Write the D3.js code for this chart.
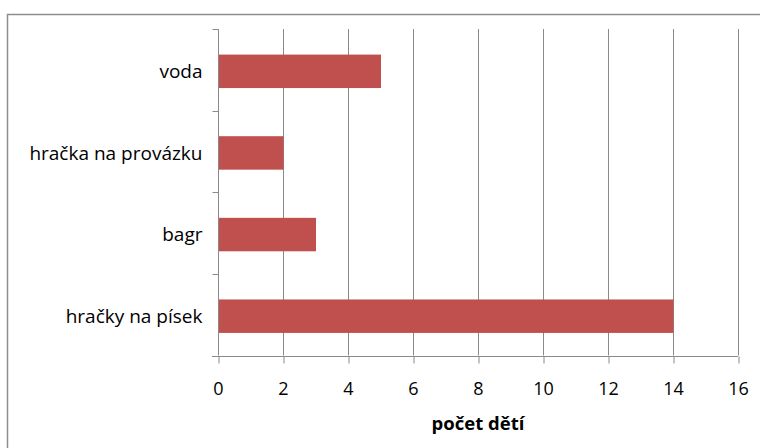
<!DOCTYPE html>
<html>
<head>
<meta charset="utf-8">
<script src="https://cdn.jsdelivr.net/npm/d3@7"></script>
<style>
body { margin: 0; background: #fff; }
svg { display: block; font-family: "Open Sans", "Noto Sans", sans-serif; }
</style>
</head>
<body>
<svg width="760" height="448"></svg>
<script>
// data
var categories = ["voda", "hračka na provázku", "bagr", "hračky na písek"];
var values = [5, 2, 3, 14];
var xTicks = [0, 2, 4, 6, 8, 10, 12, 14, 16];
var xTitle = "počet dětí";

var svg = d3.select("svg");

// outer chart frame
svg.append("rect")
    .attr("x", 7.5).attr("y", 14.5)
    .attr("width", 800).attr("height", 500)
    .attr("fill", "none")
    .attr("stroke", "#8e8e8e")
    .attr("stroke-width", 1.5);

var plotLeft = 218, plotRight = 738, plotTop = 29, plotBottom = 355.5;

var x = d3.scaleLinear().domain([0, 16]).range([plotLeft, plotRight]);
var y = d3.scaleBand().domain(categories).range([plotTop + 1.5, plotBottom + 1.5]).paddingInner(0.59).paddingOuter(0.295);

// gridlines
svg.append("g")
    .selectAll("line")
    .data(xTicks.slice(1))
    .enter().append("line")
    .attr("x1", function (d) { return Math.round(x(d)) + 0.5; })
    .attr("x2", function (d) { return Math.round(x(d)) + 0.5; })
    .attr("y1", plotTop)
    .attr("y2", plotBottom)
    .attr("stroke", "#8a8a8a")
    .attr("stroke-width", 1);

// bars
svg.append("g")
    .selectAll("rect")
    .data(values)
    .enter().append("rect")
    .attr("x", x(0) + 0.5)
    .attr("y", function (d, i) { return y(categories[i]); })
    .attr("width", function (d) { return x(d) - x(0); })
    .attr("height", y.bandwidth())
    .attr("fill", "#c0504d");

// x axis
var xAxis = svg.append("g")
    .attr("transform", "translate(0," + (Math.round(plotBottom) + 0.5) + ")")
    .call(d3.axisBottom(x).tickValues(xTicks).tickSize(7).tickSizeOuter(0).tickPadding(19));
xAxis.select(".domain").attr("stroke", "#8a8a8a").attr("d", "M" + (plotLeft - 6) + ",0H" + plotRight);
xAxis.selectAll(".tick line").attr("stroke", "#8a8a8a")
    .attr("transform", "translate(0.5,0)");
xAxis.selectAll(".tick text")
    .attr("font-size", 18)
    .attr("fill", "#000")
    .attr("font-family", "'Open Sans', sans-serif");

// y axis with tick marks between categories
var yAxis = svg.append("g").attr("transform", "translate(" + (plotLeft + 0.5) + ",0)");
yAxis.append("line")
    .attr("x1", 0).attr("x2", 0)
    .attr("y1", plotTop).attr("y2", plotBottom)
    .attr("stroke", "#8a8a8a");
var step = (plotBottom - plotTop) / categories.length;
yAxis.selectAll(".sep")
    .data(d3.range(categories.length + 1))
    .enter().append("line")
    .attr("class", "sep")
    .attr("x1", -6).attr("x2", 0)
    .attr("y1", function (i) { return Math.round(plotTop + i * step) + 0.5; })
    .attr("y2", function (i) { return Math.round(plotTop + i * step) + 0.5; })
    .attr("stroke", "#8a8a8a");
yAxis.selectAll(".lbl")
    .data(categories)
    .enter().append("text")
    .attr("class", "lbl")
    .attr("x", -16)
    .attr("y", function (d) { return y(d) + y.bandwidth() / 2; })
    .attr("dy", "0.35em")
    .attr("text-anchor", "end")
    .attr("font-size", 19)
    .attr("fill", "#000")
    .text(function (d) { return d; });

// axis title
svg.append("text")
    .attr("x", (plotLeft + plotRight) / 2)
    .attr("y", 430)
    .attr("text-anchor", "middle")
    .attr("font-size", 18.5)
    .attr("font-weight", "bold")
    .attr("fill", "#000")
    .text(xTitle);
</script>
</body>
</html>
